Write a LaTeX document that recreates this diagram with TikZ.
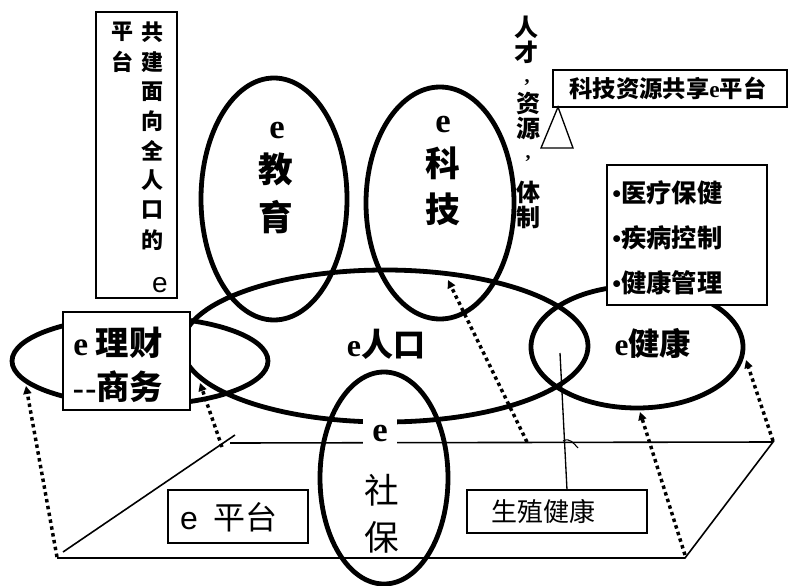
\documentclass[tikz,border=0pt]{standalone}
\usepackage{fontspec}
\setmainfont{Liberation Serif}
\setsansfont{Liberation Sans}
\newfontfamily\cjk{Noto Sans CJK SC}
\usetikzlibrary{arrows.meta}
\newcommand\fsz[1]{\fontsize{#1}{#1}\selectfont}
\newcommand\EE{{\rmfamily\bfseries e}}
\begin{document}
\begin{tikzpicture}[x=0.75pt,y=-0.75pt,
  ellline/.style={line width=3.6pt},
  boxn/.style={draw, line width=1.1pt, fill=white, inner sep=0pt},
  thinl/.style={line width=1.2pt},
  dotarrow/.style={line width=2.6pt, dash pattern=on 2.6pt off 2.6pt, -{Triangle[length=6pt,width=6pt]}},
  vt/.style={font=\cjk\bfseries\fsz{16.5pt}, inner sep=0pt},
  rc/.style={font=\cjk\bfseries\fsz{18pt}, inner sep=0pt},
  commanode/.style={font=\rmfamily\bfseries\fsz{15pt}, inner sep=0pt, anchor=base},
  big/.style={font=\cjk\bfseries\fsz{26pt}, inner sep=0pt},
  bige/.style={font=\rmfamily\bfseries\fsz{26pt}, inner sep=0pt},
  sb/.style={font=\cjk\fsz{26pt}, inner sep=0pt}
]
\useasboundingbox (0,0) rectangle (795,585);

% ---- platform corners ----
\coordinate (FL) at (57,558);
\coordinate (FR) at (685,558);
\coordinate (BL) at (230,443);
\coordinate (BR) at (773,442);
\coordinate (LS1) at (63,552);
\coordinate (LS2) at (235,435);
\draw[thinl] (FL) -- (FR) -- (BR) -- (BL);
\draw[thinl] (LS1) -- (LS2);

% ---- dotted connectors ----
\coordinate (da0) at (57,557);   \coordinate (da1) at (26,386);
\coordinate (db0) at (222,447);  \coordinate (db1) at (200,383);
\coordinate (dc0) at (527,442);  \coordinate (dc1) at (448,280);
\coordinate (dd0) at (685,555);  \coordinate (dd1) at (640,412);
\coordinate (de0) at (773,441);  \coordinate (de1) at (746,360);
\draw[dotarrow] (da0) -- (da1);
\draw[dotarrow] (db0) -- (db1);
\draw[dotarrow] (dc0) -- (dc1);
\draw[dotarrow] (dd0) -- (dd1);
\draw[dotarrow] (de0) -- (de1);

% ---- ellipses ----
\draw[ellline] (274,199) ellipse [x radius=54.75pt, y radius=90.75pt];   % e jiaoyu
\draw[ellline] (440,203) ellipse [x radius=55.5pt, y radius=87pt];       % e keji
\draw[ellline] (385,346) ellipse [x radius=152.25pt, y radius=57pt];     % e renkou
\draw[ellline] (140,361) ellipse [x radius=96pt, y radius=33pt];         % e licai
\draw[ellline] (637,347) ellipse [x radius=79.5pt, y radius=45.75pt];    % e jiankang
\draw[ellline] (384,478) ellipse [x radius=48pt, y radius=79.5pt];       % e shebao

% ---- reproductive health line ----
\coordinate (szTop) at (567,490);
\coordinate (szEnd) at (560,353);
\draw[line width=1pt] (szTop) -- (szEnd);
\draw[line width=0.8pt] (563,441) .. controls (570,437) and (574,444) .. (578,448);

% ---- gap node e (shebao) ----
\node[bige, fill=white, minimum width=25.5pt, minimum height=24pt] (sbe) at (380,434) {e};
\node[sb] (sb1) at (382,490) {社};
\node[sb] (sb2) at (382,537) {保};

% ---- ellipse labels ----
\node[bige] (jy0) at (277,131) {e};
\node[big] (jy1) at (276,169) {教};
\node[big] (jy2) at (276,217) {育};
\node[bige] (kj0) at (443,125) {e};
\node[big] (kj1) at (443,163) {科};
\node[big] (kj2) at (443,209) {技};
\node[font=\cjk\bfseries\fsz{24pt}, inner sep=0pt] (rk) at (386,344) {\EE 人口};
\node[font=\cjk\bfseries\fsz{23.5pt}, inner sep=0pt] (jk) at (653,343) {\EE 健康};

% ---- left vertical box ----
\node[boxn, minimum width=60.75pt, minimum height=214.5pt] (vbox) at (136.5,155) {};
\foreach \c [count=\i] in {共,建,面,向,全,人,口,的}
  \node[vt] (v\i) at (152, 32+29.7*\i-29.7) {\c};
\node[vt] (p1) at (122,32) {平};
\node[vt] (p2) at (122,62) {台};
\node[font=\sffamily\fsz{21pt}, inner sep=0pt] (ve) at (160,285) {e};

% ---- talent column ----
\node[rc] (r1) at (526,27) {人};
\node[rc] (r2) at (526,52) {才};
\node[commanode] (r3) at (527,82) {,};
\node[rc] (r4) at (528,104) {资};
\node[rc] (r5) at (528,128) {源};
\node[commanode] (r6) at (528,158) {,};
\node[rc] (r7) at (528,192) {体};
\node[rc] (r8) at (528,217) {制};

% ---- tech sharing box ----
\node[boxn, minimum width=175.5pt, minimum height=27.75pt] (kjbox) at (670,88.5) {};
\node[font=\cjk\bfseries\fsz{17.5pt}, inner sep=0pt] (kjt) at (668,88) {科技资源共享\EE 平台};
\coordinate (triA) at (558,107);
\coordinate (triB) at (541,148);
\coordinate (triC) at (573,148);
\draw[line width=1pt] (triA) -- (triB) -- (triC) -- cycle;

% ---- bullet box ----
\node[boxn, minimum width=120pt, minimum height=105pt] (bbox) at (687,235) {};
\node[font=\cjk\bfseries\fontsize{19pt}{33.75pt}\selectfont, align=left, anchor=west, inner sep=0pt] (bt) at (612,238)
  {{\rmfamily\bfseries •}医疗保健\\{\rmfamily\bfseries •}疾病控制\\{\rmfamily\bfseries •}健康管理};

% ---- licai box ----
\node[boxn, minimum width=95.25pt, minimum height=73.5pt] (lcbox) at (126.5,361) {};
\node[font=\cjk\bfseries\fontsize{25pt}{33pt}\selectfont, align=center, inner sep=0pt] (lct) at (118,365)
  {\EE\ 理财\\{\rmfamily\bfseries -\kern1pt-}商务};

% ---- e platform box ----
\node[boxn, minimum width=105pt, minimum height=39.75pt] (epbox) at (238,516.5) {};
\node[font=\cjk\fsz{24pt}, inner sep=0pt] (ept) at (229,517) {{\sffamily e}\hspace{12pt}平台};

% ---- reproductive health box ----
\node[boxn, minimum width=135pt, minimum height=32.25pt] (szbox) at (557,511.5) {};
\node[font=\cjk\fsz{19.5pt}, inner sep=0pt] (szt) at (543,512) {生殖健康};
\end{tikzpicture}
\end{document}
